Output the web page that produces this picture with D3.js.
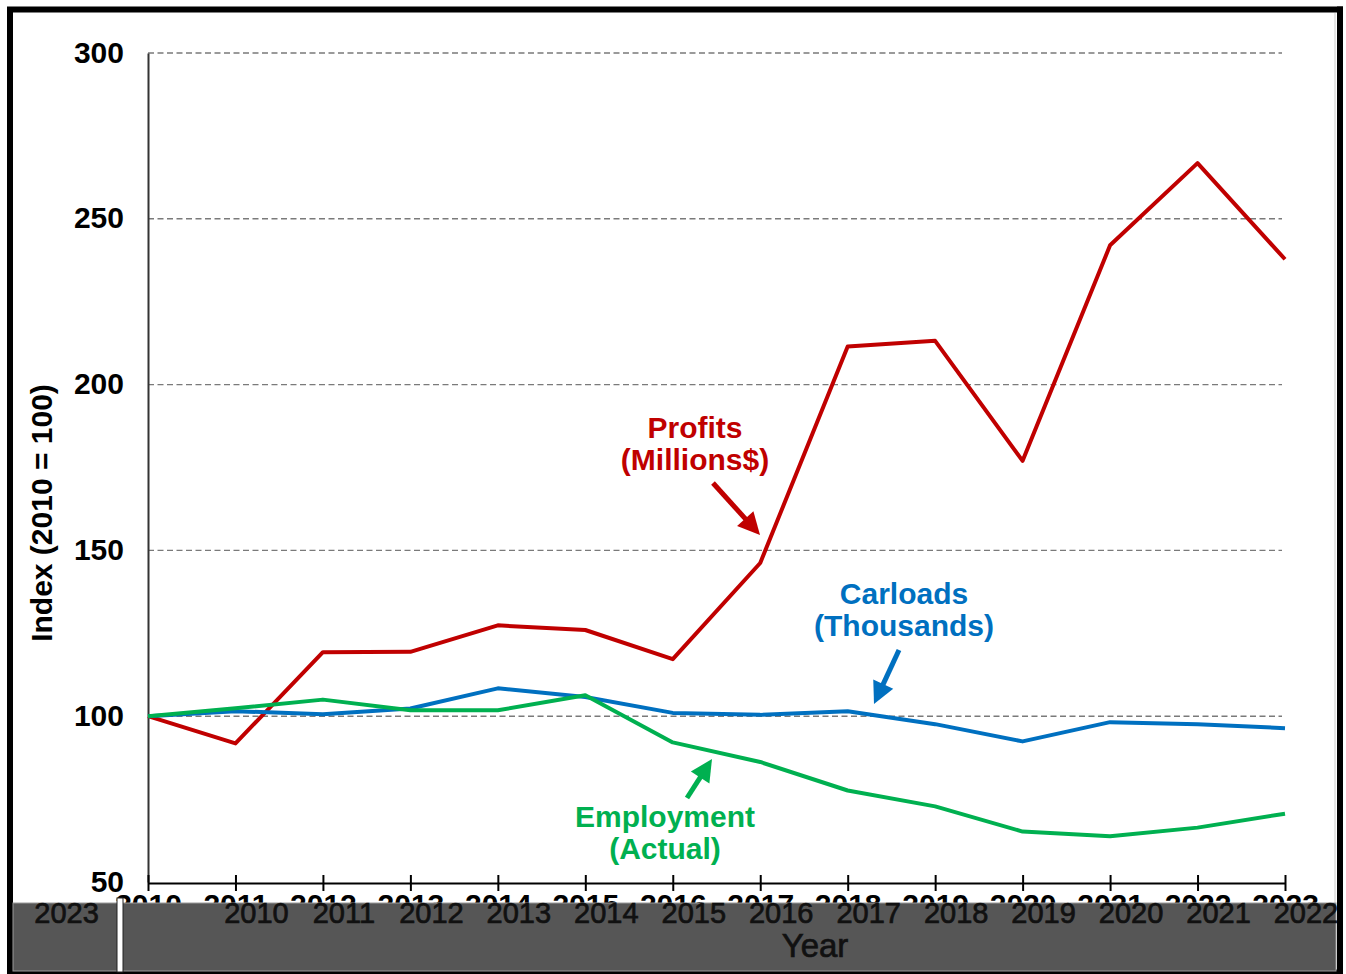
<!DOCTYPE html>
<html>
<head>
<meta charset="utf-8">
<script src="https://cdn.jsdelivr.net/npm/d3@7"></script>
<style>
  body { margin: 0; background: #fff; }
  svg { display: block; font-family: "Liberation Sans", Arial, Helvetica, sans-serif; }
</style>
</head>
<body>
<svg id="chart" width="1346" height="974"></svg>
<script>
// data (index, 2010 = 100)
const years = [2010, 2011, 2012, 2013, 2014, 2015, 2016, 2017, 2018, 2019, 2020, 2021, 2022, 2023];
const profits = [100, 91.8, 119.3, 119.4, 127.4, 126, 117.2, 146.2, 211.5, 213.2, 177, 242, 266.8, 237.8];
const carloads = [100, 101.5, 100.6, 102.3, 108.4, 105.8, 101, 100.4, 101.5, 97.6, 92.4, 98.2, 97.6, 96.4];
const employment = [100, 102.4, 105, 101.8, 101.8, 106.3, 92.1, 86.2, 77.6, 72.8, 65.2, 63.8, 66.4, 70.6];
const yTicks = [50, 100, 150, 200, 250, 300];
// the shifted, wrapped year labels painted over the bottom band
const bandLabels = ["2023", "2010", "2011", "2012", "2013", "2014", "2015", "2016", "2017", "2018", "2019", "2020", "2021", "2022"];

const series = [
  { name: "profits", values: profits, color: "#C00000", label: ["Profits", "(Millions$)"], lx: 695, ly: 438, arrow: [[713, 483], [760, 535]] },
  { name: "carloads", values: carloads, color: "#0070C0", label: ["Carloads", "(Thousands)"], lx: 904, ly: 604, arrow: [[899, 650], [874, 704]] },
  { name: "employment", values: employment, color: "#00B050", label: ["Employment", "(Actual)"], lx: 665, ly: 827, arrow: [[687, 798], [712, 759]] }
];

const width = 1346, height = 974;
const marginLeft = 148, marginRight = 61, marginTop = 53, marginBottom = 92;

const svg = d3.select("#chart");

const x = d3.scaleLinear()
  .domain(d3.extent(years))
  .range([marginLeft, width - marginRight]);

const y = d3.scaleLinear()
  .domain([50, 300])
  .range([height - marginBottom, marginTop]);

// outer frame
svg.append("rect")
  .attr("x", 10).attr("y", 9.5)
  .attr("width", 1330).attr("height", 963)
  .attr("fill", "#fff")
  .attr("stroke", "#000")
  .attr("stroke-width", 6);
svg.append("line")
  .attr("x1", 1335).attr("x2", 1335).attr("y1", 13).attr("y2", 968)
  .attr("stroke", "#ccc").attr("stroke-width", 1);

// gridlines
svg.append("g")
  .selectAll("line")
  .data(yTicks.filter(d => d > 50))
  .join("line")
  .attr("x1", marginLeft)
  .attr("x2", width - marginRight - 3)
  .attr("y1", d => y(d))
  .attr("y2", d => y(d))
  .attr("stroke", "#7a7a7a")
  .attr("stroke-width", 1.4)
  .attr("stroke-dasharray", "6,3.5");

// y axis
const yAxis = svg.append("g")
  .attr("transform", `translate(${marginLeft},0)`)
  .call(d3.axisLeft(y).tickValues(yTicks).tickSize(0).tickPadding(24));
yAxis.select(".domain").attr("stroke", "#333").attr("stroke-width", 2);
yAxis.selectAll("text")
  .style("font-size", "30px")
  .style("font-weight", "bold")
  .style("fill", "#000")
  .attr("dy", "0.3em");

// y axis title
svg.append("text")
  .attr("transform", `translate(52,513) rotate(-90)`)
  .attr("text-anchor", "middle")
  .style("font-size", "30px")
  .style("font-weight", "bold")
  .text("Index (2010 = 100)");

// lines
const line = d3.line()
  .x((d, i) => x(years[i]))
  .y(d => y(d));

svg.append("g")
  .selectAll("path")
  .data(series)
  .join("path")
  .attr("fill", "none")
  .attr("stroke", d => d.color)
  .attr("stroke-width", 4)
  .attr("stroke-linejoin", "round")
  .attr("d", d => line(d.values));

// x axis (its labels end up mostly hidden under the band)
const xAxis = svg.append("g")
  .attr("transform", `translate(0,${y(50) + 1})`)
  .call(d3.axisBottom(x).tickValues(years).tickFormat(d3.format("d")).tickSizeInner(0).tickSizeOuter(0).tickPadding(32));
xAxis.select(".domain").attr("stroke", "#000").attr("stroke-width", 2);
xAxis.selectAll(".tick")
  .append("line")
  .attr("y1", -8).attr("y2", 8)
  .attr("stroke", "#000").attr("stroke-width", 2);
xAxis.selectAll("text")
  .style("font-size", "30px")
  .style("font-weight", "bold")
  .style("fill", "#000")
  .attr("dy", "0");

// annotations
const ann = svg.append("g");
series.forEach(s => {
  s.label.forEach((t, i) => {
    ann.append("text")
      .attr("x", s.lx)
      .attr("y", s.ly + i * 32)
      .attr("text-anchor", "middle")
      .style("font-size", "30px")
      .style("font-weight", "bold")
      .style("fill", s.color)
      .text(t);
  });
  const [p0, p1] = s.arrow;
  const ang = Math.atan2(p1[1] - p0[1], p1[0] - p0[0]);
  const headLen = 22, headW = 11;
  const bx = p1[0] - headLen * Math.cos(ang), by = p1[1] - headLen * Math.sin(ang);
  ann.append("line")
    .attr("x1", p0[0]).attr("y1", p0[1])
    .attr("x2", bx + 2 * Math.cos(ang)).attr("y2", by + 2 * Math.sin(ang))
    .attr("stroke", s.color).attr("stroke-width", 5);
  ann.append("path")
    .attr("d", d3.line()([
      p1,
      [bx + headW * Math.sin(ang), by - headW * Math.cos(ang)],
      [bx - headW * Math.sin(ang), by + headW * Math.cos(ang)]
    ]) + "Z")
    .attr("fill", s.color);
});

// bottom band painted over the axis labels
const bandTop = 903;
svg.append("rect")
  .attr("x", 13).attr("y", bandTop)
  .attr("width", 1323).attr("height", 68)
  .attr("fill", "#565656")
  .attr("stroke", "#9a9a9a")
  .attr("stroke-width", 1);
svg.append("rect")
  .attr("x", 117).attr("y", 898)
  .attr("width", 6).attr("height", 74)
  .attr("fill", "#fff")
  .attr("stroke", "#222")
  .attr("stroke-width", 1);

const step = x(years[1]) - x(years[0]);
svg.append("g")
  .selectAll("text")
  .data(bandLabels)
  .join("text")
  .attr("x", (d, i) => x(years[i]) + 21 - (i === 0 ? step + 15 : 0))
  .attr("y", 923)
  .attr("text-anchor", "middle")
  .style("font-size", "29px")
  .style("fill", "#111")
  .style("stroke", "#111")
  .style("stroke-width", 0.7)
  .text(d => d);

svg.append("text")
  .attr("x", 815)
  .attr("y", 957)
  .attr("text-anchor", "middle")
  .style("font-size", "33px")
  .style("fill", "#111")
  .style("stroke", "#111")
  .style("stroke-width", 0.7)
  .text("Year");

// re-draw the right frame edge over the band
svg.append("line")
  .attr("x1", 1340).attr("x2", 1340).attr("y1", 6.5).attr("y2", 974)
  .attr("stroke", "#000").attr("stroke-width", 6);
</script>
</body>
</html>
